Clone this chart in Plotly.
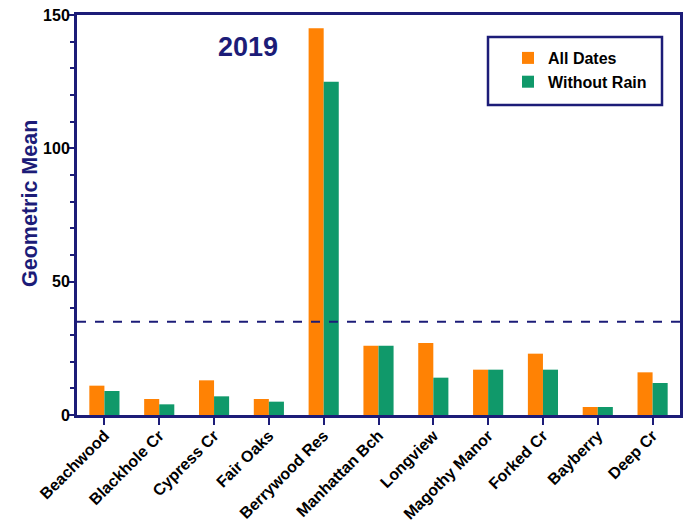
import plotly.graph_objects as go

categories = ["Beachwood", "Blackhole Cr", "Cypress Cr", "Fair Oaks", "Berrywood Res",
              "Manhattan Bch", "Longview", "Magothy Manor", "Forked Cr", "Bayberry", "Deep Cr"]
all_dates = [11, 6, 13, 6, 145, 26, 27, 17, 23, 3, 16]
without_rain = [9, 4, 7, 5, 125, 26, 14, 17, 17, 3, 12]
threshold = 35
y_ticks = [0, 50, 100, 150]

NAVY = "#1C1C78"
ORANGE = "#FF8204"
GREEN = "#10996A"
FONT = "Liberation Sans, Arial"

fig = go.Figure()
fig.add_trace(go.Bar(x=categories, y=all_dates, name="All Dates", marker_color=ORANGE,
                     marker_line_width=0))
fig.add_trace(go.Bar(x=categories, y=without_rain, name="Without Rain", marker_color=GREEN,
                     marker_line_width=0))

fig.add_shape(type="line", xref="paper", yref="y", x0=0, x1=1, y0=threshold, y1=threshold,
              line=dict(color=NAVY, width=2, dash="dash"))

# legend frame
fig.add_shape(type="rect", xref="paper", yref="paper",
              x0=(488 - 77) / 603, x1=(662 - 77) / 603,
              y0=(415 - 105) / 400, y1=(415 - 37) / 400,
              line=dict(color=NAVY, width=2.5), fillcolor="rgba(0,0,0,0)")

fig.add_annotation(text="<b>2019</b>", xref="paper", yref="paper", x=(248 - 77) / 603,
                   y=(415 - 47) / 400, xanchor="center", yanchor="middle",
                   showarrow=False, font=dict(size=27, color=NAVY, family=FONT))

fig.add_annotation(text="<b>Geometric Mean</b>", xref="paper", yref="paper",
                   x=(30 - 77) / 603, y=(415 - 203) / 400, xanchor="center", yanchor="middle",
                   textangle=-90, showarrow=False,
                   font=dict(size=21.5, color=NAVY, family=FONT))

fig.update_layout(
    width=686, height=524,
    margin=dict(l=77, r=6, t=15, b=109),
    paper_bgcolor="white", plot_bgcolor="white",
    barmode="group", bargap=0.45, bargroupgap=0,
    font=dict(family=FONT, color="black"),
    showlegend=True,
    legend=dict(x=(508 - 77) / 603, y=(415 - 41) / 400, xanchor="left", yanchor="top",
                borderwidth=0, bgcolor="rgba(0,0,0,0)",
                font=dict(size=16, color="black", weight="bold"),
                itemwidth=30, tracegroupgap=2),
    xaxis=dict(showline=True, linecolor=NAVY, linewidth=3, mirror=True, automargin=False,
               ticks="outside", tickcolor=NAVY, tickwidth=2, ticklen=7,
               tickangle=-45, tickfont=dict(size=16, weight="bold", color="black"),
               ticklabelstandoff=-5,
               showgrid=False, zeroline=False),
    yaxis=dict(range=[0, 150], tickvals=y_ticks, showline=True, linecolor=NAVY, linewidth=3,
               mirror=True, automargin=False, ticks="outside", tickcolor=NAVY, tickwidth=2,
               ticklen=6, tickfont=dict(size=16, weight="bold", color="black"),
               ticklabelstandoff=-5,
               minor=dict(dtick=10, ticks="outside", ticklen=4, tickcolor=NAVY, tickwidth=2),
               showgrid=False, zeroline=False),
)

fig.write_html("out.html", config={"displayModeBar": False},
               post_script="document.body.style.margin='0px';")
